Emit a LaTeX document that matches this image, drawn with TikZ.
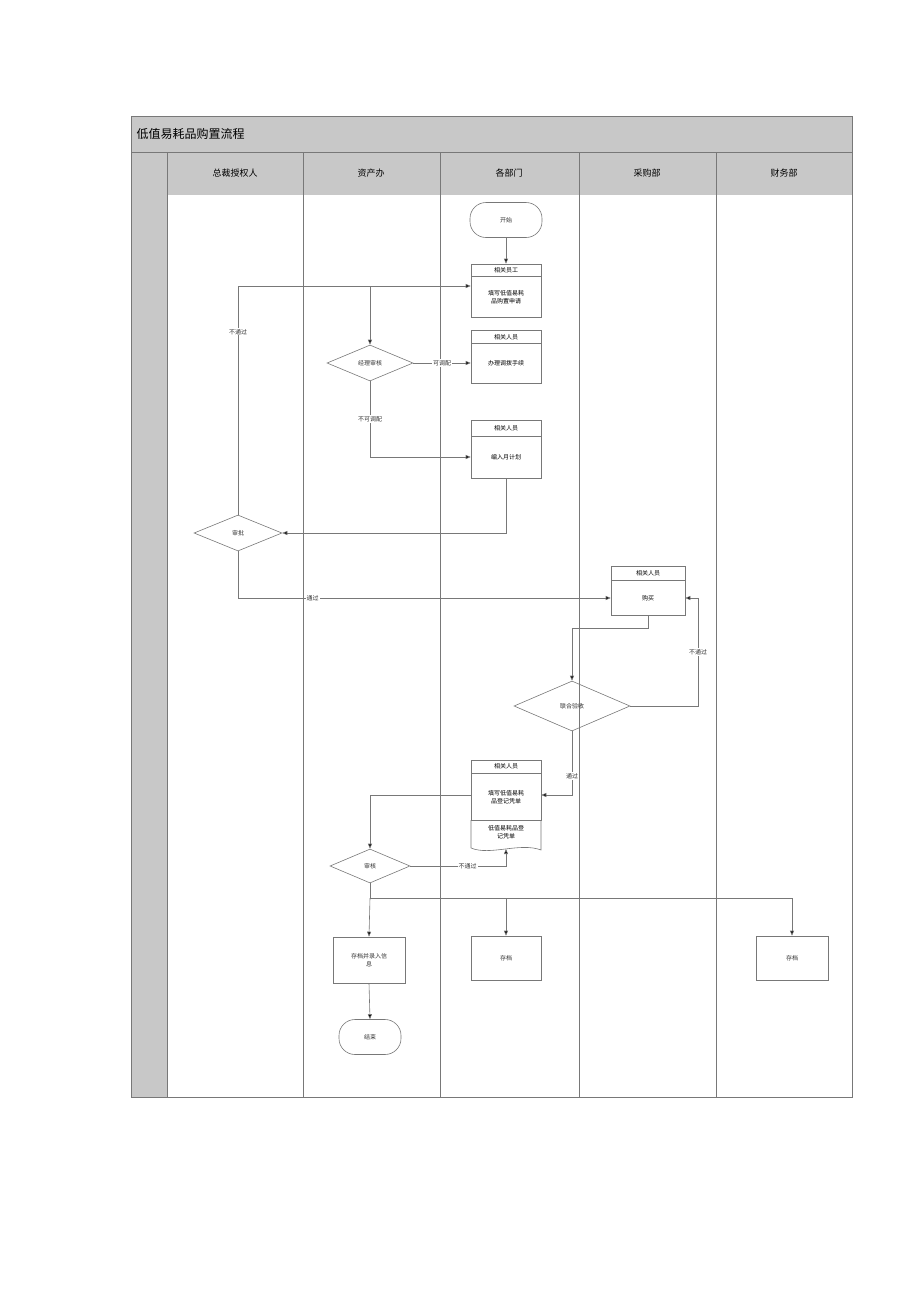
\documentclass[tikz,border=0pt]{standalone}
\usepackage{fontspec}
\setmainfont{Noto Sans CJK SC}
\usetikzlibrary{shapes.geometric,arrows.meta}
\definecolor{band}{RGB}{200,200,200}
\definecolor{ln}{RGB}{120,120,120}
\begin{document}
\begin{tikzpicture}[x=1pt,y=-1pt,
  lane/.style={draw=ln,line width=0.6pt},
  box/.style={draw=ln,line width=0.6pt,minimum width=70pt,align=center,font=\fontsize{6}{8}\selectfont,text=black!80},
  dia/.style={draw=ln,line width=0.6pt,diamond,aspect=2.4,inner sep=1pt,font=\fontsize{6}{8}\selectfont,text=black!80},
  pill/.style={draw=ln,line width=0.6pt,rounded corners=16pt,font=\fontsize{6}{8}\selectfont,text=black!80},
  arr/.style={draw=ln,line width=0.6pt,-{Triangle[length=5pt,width=4pt,fill=black]}},
  lab/.style={fill=white,inner sep=1pt,font=\fontsize{6}{8}\selectfont,text=black!80}]
\useasboundingbox (0,0) rectangle (920,1301);
% frame
\fill[band] (131,116) rectangle (852,152);
\fill[band] (131,152) rectangle (167,1097);
\fill[band] (167,152) rectangle (852,195);
\draw[lane] (131,116) rectangle (852,1097);
\draw[lane] (131,152) -- (852,152);
\draw[lane] (167,152) -- (167,1097);
\foreach \x in {303,440,579,716} \draw[lane] (\x,152) -- (\x,1097);
\node[anchor=west,font=\fontsize{12}{14}\selectfont] (title) at (133,134) {低值易耗品购置流程};
\node[font=\fontsize{9}{11}\selectfont] (h1) at (235,173) {总裁授权人};
\node[font=\fontsize{9}{11}\selectfont] (h2) at (371,173) {资产办};
\node[font=\fontsize{9}{11}\selectfont] (h3) at (509,173) {各部门};
\node[font=\fontsize{9}{11}\selectfont] (h4) at (647,173) {采购部};
\node[font=\fontsize{9}{11}\selectfont] (h5) at (784,173) {财务部};
% nodes
\node[pill,minimum width=72pt,minimum height=35pt] (start) at (506,220) {开始};
\node[box,minimum height=53pt] (b1) at (506,290.5) {};
\draw[ln] (471,276) -- (541,276);
\node[font=\fontsize{6}{8}\selectfont] (b1h) at (506,270) {相关员工};
\node[font=\fontsize{6}{8}\selectfont,align=center] (b1t) at (506,297) {填写低值易耗\\品购置申请};
\node[box,minimum height=53pt] (b2) at (506,356.5) {};
\draw[ln] (471,343) -- (541,343);
\node[font=\fontsize{6}{8}\selectfont] (b2h) at (506,337) {相关人员};
\node[font=\fontsize{6}{8}\selectfont] (b2t) at (506,363) {办理调拨手续};
\node[dia,minimum width=86pt,minimum height=36pt] (d1) at (370,363) {经理审核};
\node[box,minimum height=58pt] (b3) at (506,449) {};
\draw[ln] (471,436) -- (541,436);
\node[font=\fontsize{6}{8}\selectfont] (b3h) at (506,428) {相关人员};
\node[font=\fontsize{6}{8}\selectfont] (b3t) at (506,457) {编入月计划};
\node[dia,minimum width=88pt,minimum height=36pt] (d2) at (238,533) {审批};
\node[box,minimum width=74pt,minimum height=49pt] (b4) at (648,590.5) {};
\draw[ln] (611,580) -- (685,580);
\node[font=\fontsize{6}{8}\selectfont] (b4h) at (648,573) {相关人员};
\node[font=\fontsize{6}{8}\selectfont] (b4t) at (648,598) {购买};
\node[dia,minimum width=116pt,minimum height=50pt] (d3) at (572,706) {联合验收};
\node[box,minimum height=60pt] (b5) at (506,790) {};
\draw[ln] (471,773) -- (541,773);
\node[font=\fontsize{6}{8}\selectfont] (b5h) at (506,766) {相关人员};
\node[font=\fontsize{6}{8}\selectfont,align=center] (b5t) at (506,797) {填写低值易耗\\品登记凭单};
\draw[ln,line width=0.6pt] (471,820) -- (471,848) .. controls (490,856) and (520,842) .. (541,850) -- (541,820);
\coordinate (docb) at (506,849);
\node[font=\fontsize{6}{8}\selectfont,align=center] (doct) at (506,832) {低值易耗品登\\记凭单};
\node[dia,minimum width=80pt,minimum height=34pt] (d4) at (370,866) {审核};
\node[box,minimum width=72pt,minimum height=46pt] (b6) at (369,960) {存档并录入信\\息};
\node[pill,minimum width=62pt,minimum height=35pt] (end) at (370,1037) {结束};
\node[box,minimum height=44pt] (b7) at (506,958) {存档};
\node[box,minimum width=72pt,minimum height=44pt] (b8) at (792,958) {存档};
% edges
\draw[arr] (start) -- (b1);
\coordinate (j1) at (370,286);
\draw[arr] (d2.north) |- (b1.west |- 0,286) node[lab,pos=0.4] {不通过};
\draw[arr] (j1) -- (d1.north);
\draw[arr] (d1.east) -- (b2.west |- d1.east) node[lab,midway] {可调配};
\draw[arr] (d1.south) |- (b3.west |- 0,457) node[lab,pos=0.25] {不可调配};
\draw[arr] (b3.south) |- (d2.east);
\draw[arr] (d2.south) |- (b4.west |- 0,598) node[lab,pos=0.6] {通过};
\coordinate (j2) at (648,628);
\draw[arr] (b4.south) -- (j2) -| (d3.north);
\draw[arr] (d3.east) -| (698,598) node[lab,pos=0.75] {不通过} -- (b4.east |- 0,598);
\draw[arr] (d3.south) |- (b5.east |- 0,795) node[lab,pos=0.35] {通过};
\draw[arr] (b5.west |- 0,795) -| (d4.north);
\draw[arr] (d4.east) -| (docb) node[lab,pos=0.3] {不通过};
\coordinate (j3) at (370,898);
\draw[ln,line width=0.6pt] (d4.south) -- (j3) -- (792,898);
\draw[arr] (j3) -- (b6.north);
\draw[arr] (506,898) -- (b7.north);
\draw[arr] (792,898) -- (b8.north);
\draw[arr] (b6.south) -- (end.north);
\end{tikzpicture}
\end{document}
